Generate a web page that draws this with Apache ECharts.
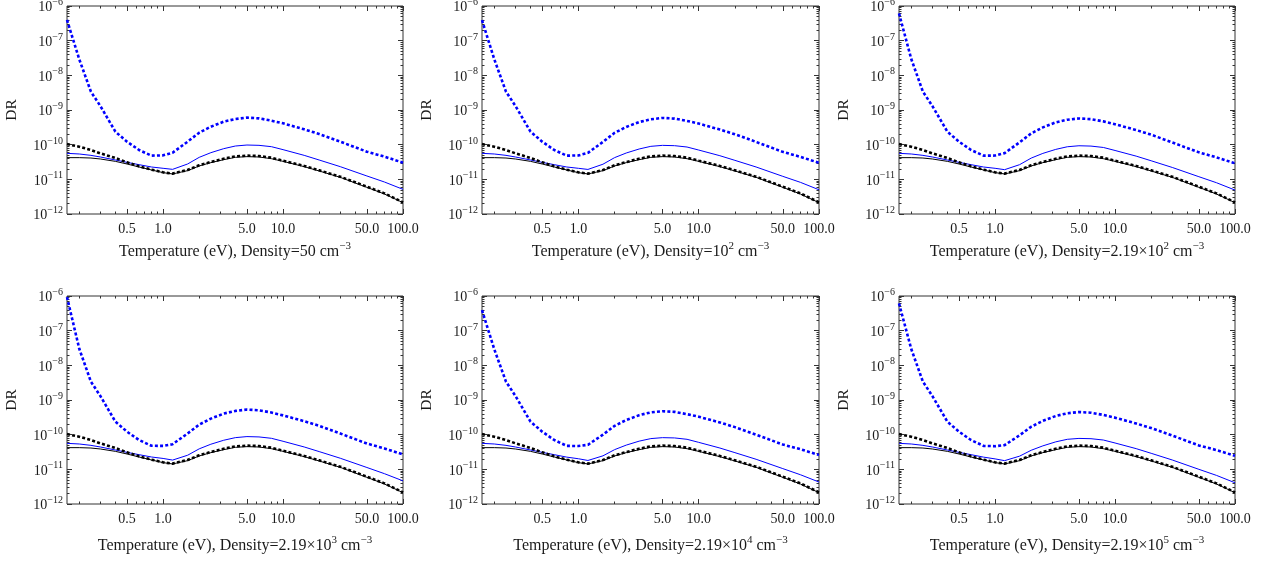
<!DOCTYPE html>
<html><head><meta charset="utf-8">
<script src="https://cdn.jsdelivr.net/npm/echarts@6/dist/echarts.min.js"></script>
<style>html,body{margin:0;padding:0;background:#fff}#c{width:1273px;height:562px}</style>
</head><body><div id="c"></div>
<script>
// ---------- DATA ----------
const temperatures = [0.158,0.2,0.25,0.3,0.4,0.5,0.63,0.8,1.0,1.2,1.6,2.0,2.5,3.2,4.0,5.0,6.3,8.0,10,15,20,30,50,70,100];

const blackSolid  = [4.22e-11,4.22e-11,4.12e-11,3.86e-11,3.30e-11,2.77e-11,2.27e-11,1.86e-11,1.56e-11,1.43e-11,1.78e-11,2.43e-11,3.03e-11,3.69e-11,4.31e-11,4.51e-11,4.41e-11,3.94e-11,3.30e-11,2.32e-11,1.74e-11,1.14e-11,5.87e-12,3.78e-12,2.12e-12];
const blackDashed = [1.04e-10,8.75e-11,7.02e-11,5.62e-11,4.12e-11,3.09e-11,2.37e-11,1.90e-11,1.59e-11,1.46e-11,1.86e-11,2.54e-11,3.16e-11,3.94e-11,4.60e-11,4.82e-11,4.71e-11,4.22e-11,3.45e-11,2.43e-11,1.82e-11,1.19e-11,6.14e-12,3.94e-12,2.17e-12];

const blueSolid_50    = [5.62e-11,5.38e-11,4.92e-11,4.41e-11,3.61e-11,3.09e-11,2.65e-11,2.27e-11,2.08e-11,1.94e-11,2.77e-11,4.31e-11,5.87e-11,7.67e-11,9.14e-11,9.77e-11,9.57e-11,8.75e-11,7.18e-11,4.92e-11,3.61e-11,2.32e-11,1.25e-11,8.38e-12,5.14e-12];
const blueSolid_1e2   = [5.62e-11,5.38e-11,4.92e-11,4.41e-11,3.61e-11,3.09e-11,2.65e-11,2.27e-11,2.08e-11,1.93e-11,2.73e-11,4.23e-11,5.75e-11,7.50e-11,8.95e-11,9.55e-11,9.35e-11,8.55e-11,7.00e-11,4.80e-11,3.53e-11,2.27e-11,1.22e-11,8.20e-12,5.00e-12];
const blueSolid_219e2 = [5.62e-11,5.38e-11,4.92e-11,4.41e-11,3.61e-11,3.09e-11,2.65e-11,2.27e-11,2.08e-11,1.90e-11,2.65e-11,4.10e-11,5.60e-11,7.30e-11,8.70e-11,9.30e-11,9.10e-11,8.30e-11,6.80e-11,4.67e-11,3.43e-11,2.20e-11,1.19e-11,8.00e-12,4.90e-12];
const blueSolid_219e3 = [5.62e-11,5.38e-11,4.92e-11,4.41e-11,3.61e-11,3.09e-11,2.65e-11,2.27e-11,2.06e-11,1.85e-11,2.55e-11,3.90e-11,5.30e-11,6.90e-11,8.20e-11,8.80e-11,8.60e-11,7.85e-11,6.45e-11,4.42e-11,3.25e-11,2.09e-11,1.13e-11,7.50e-12,4.65e-12];
const blueSolid_219e4 = [5.62e-11,5.38e-11,4.92e-11,4.41e-11,3.61e-11,3.09e-11,2.65e-11,2.25e-11,2.02e-11,1.80e-11,2.45e-11,3.70e-11,5.00e-11,6.50e-11,7.70e-11,8.20e-11,8.05e-11,7.35e-11,6.00e-11,4.12e-11,3.03e-11,1.95e-11,1.05e-11,7.00e-12,4.30e-12];
const blueSolid_219e5 = [5.62e-11,5.38e-11,4.92e-11,4.41e-11,3.61e-11,3.09e-11,2.65e-11,2.25e-11,2.00e-11,1.78e-11,2.40e-11,3.55e-11,4.75e-11,6.20e-11,7.35e-11,7.80e-11,7.65e-11,7.00e-11,5.75e-11,3.95e-11,2.90e-11,1.86e-11,1.00e-11,6.70e-12,4.10e-12];

const blueDotted_50    = [3.95e-7,2.89e-8,3.38e-9,1.30e-9,2.37e-10,1.22e-10,7.02e-11,4.82e-11,4.92e-11,5.87e-11,1.22e-10,2.22e-10,3.30e-10,4.60e-10,5.50e-10,6.01e-10,5.75e-10,4.92e-10,4.12e-10,2.77e-10,2.03e-10,1.22e-10,6.28e-11,4.51e-11,3.03e-11];
const blueDotted_1e2   = [3.90e-7,2.89e-8,3.38e-9,1.30e-9,2.37e-10,1.22e-10,7.02e-11,4.82e-11,4.90e-11,5.80e-11,1.20e-10,2.20e-10,3.25e-10,4.50e-10,5.40e-10,5.90e-10,5.65e-10,4.85e-10,4.05e-10,2.72e-10,2.00e-10,1.20e-10,6.20e-11,4.45e-11,3.00e-11];
const blueDotted_219e2 = [6.10e-7,2.95e-8,3.38e-9,1.30e-9,2.37e-10,1.22e-10,7.02e-11,4.82e-11,4.85e-11,5.70e-11,1.17e-10,2.12e-10,3.15e-10,4.40e-10,5.25e-10,5.70e-10,5.45e-10,4.70e-10,3.90e-10,2.64e-10,1.94e-10,1.16e-10,6.00e-11,4.30e-11,2.90e-11];
const blueDotted_219e3 = [9.30e-7,3.00e-8,3.38e-9,1.30e-9,2.37e-10,1.22e-10,7.00e-11,4.78e-11,4.75e-11,5.30e-11,1.08e-10,1.95e-10,2.90e-10,4.05e-10,4.85e-10,5.30e-10,5.05e-10,4.35e-10,3.60e-10,2.45e-10,1.80e-10,1.08e-10,5.55e-11,4.00e-11,2.70e-11];
const blueDotted_219e4 = [3.90e-7,2.89e-8,3.38e-9,1.30e-9,2.37e-10,1.22e-10,7.00e-11,4.75e-11,4.70e-11,5.10e-11,1.00e-10,1.80e-10,2.65e-10,3.65e-10,4.40e-10,4.75e-10,4.55e-10,3.90e-10,3.30e-10,2.25e-10,1.65e-10,1.00e-10,5.20e-11,3.80e-11,2.60e-11];
const blueDotted_219e5 = [6.10e-7,2.95e-8,3.38e-9,1.30e-9,2.37e-10,1.22e-10,7.00e-11,4.75e-11,4.65e-11,5.00e-11,9.60e-11,1.70e-10,2.50e-10,3.45e-10,4.15e-10,4.50e-10,4.30e-10,3.70e-10,3.10e-10,2.10e-10,1.55e-10,9.40e-11,4.90e-11,3.60e-11,2.45e-11];

const panelTitles = [
  '{b|Temperature (eV), Density=50 cm}{s|−3}',
  '{b|Temperature (eV), Density=10}{s|2}{b| cm}{s|−3}',
  '{b|Temperature (eV), Density=2.19×10}{s|2}{b| cm}{s|−3}',
  '{b|Temperature (eV), Density=2.19×10}{s|3}{b| cm}{s|−3}',
  '{b|Temperature (eV), Density=2.19×10}{s|4}{b| cm}{s|−3}',
  '{b|Temperature (eV), Density=2.19×10}{s|5}{b| cm}{s|−3}'
];
const panelBlueSolid  = [blueSolid_50, blueSolid_1e2, blueSolid_219e2, blueSolid_219e3, blueSolid_219e4, blueSolid_219e5];
const panelBlueDotted = [blueDotted_50, blueDotted_1e2, blueDotted_219e2, blueDotted_219e3, blueDotted_219e4, blueDotted_219e5];

const xMajorTicks = [0.5, 1, 5, 10, 50, 100];
const xMinorTicks = [0.2,0.3,0.4,0.6,0.7,0.8,0.9,2,3,4,6,7,8,9,20,30,40,60,70,80,90];
const yDecadeMin = -12, yDecadeMax = -6;
const xMin = 0.158, xMax = 100;

// ---------- LAYOUT ----------
const colLeft = [67, 482, 899], colWidth = [336, 337, 336];
const rowTop = [6, 296], rowHeight = 208;
const titleGap = [27, 31];
const FONT = "'Liberation Serif','Times New Roman',serif";
const FRAME = '#333';
const TXT = '#1a1a1a';

const yMinor = [];
for (let n = yDecadeMin; n < yDecadeMax; n++) for (let k = 2; k <= 9; k++) yMinor.push(n + Math.log10(k));

const grids = [], xAxes = [], yAxes = [], series = [];
const yRich = {
  b: {fontSize: 14, fontFamily: FONT, color: TXT, lineHeight: 17, verticalAlign: 'bottom'},
  s: {fontSize: 10, fontFamily: FONT, color: TXT, lineHeight: 10, verticalAlign: 'top'}
};
const titleRich = {
  b: {fontSize: 16, fontFamily: FONT, color: TXT, lineHeight: 19, verticalAlign: 'bottom'},
  s: {fontSize: 11, fontFamily: FONT, color: TXT, lineHeight: 11, verticalAlign: 'top'}
};

for (let p = 0; p < 6; p++) {
  const r = Math.floor(p / 3), c = p % 3;
  grids.push({left: colLeft[c], top: rowTop[r], width: colWidth[c], height: rowHeight,
    show: true, borderColor: FRAME, borderWidth: 1, backgroundColor: 'transparent',
    containLabel: false, outerBoundsMode: 'none'});
  const lxmin = Math.log10(xMin), lxmax = Math.log10(xMax);
  const base = {gridIndex: p, axisLine: {show: false, onZero: false}, splitLine: {show: false}};
  const tickAxis = (pos, vals, len, labels) => Object.assign({}, base, {
    type: 'value', min: lxmin, max: lxmax, position: pos,
    axisTick: {show: true, inside: true, length: len, customValues: vals, lineStyle: {color: FRAME, width: 1}},
    axisLabel: labels ? {show: true, customValues: vals, formatter: v => Math.pow(10, v).toFixed(1),
      fontSize: 14, fontFamily: FONT, color: TXT, margin: 8} : {show: false}
  });
  xAxes.push(Object.assign({}, base, {type: 'log', logBase: 10, min: xMin, max: xMax,
    axisTick: {show: false}, axisLabel: {show: false}, minorTick: {show: false}}));
  const xb = tickAxis('bottom', xMajorTicks.map(Math.log10), 5, true);
  xb.name = panelTitles[p]; xb.nameLocation = 'middle'; xb.nameGap = titleGap[r];
  xb.nameTextStyle = {rich: titleRich};
  xAxes.push(xb);
  xAxes.push(tickAxis('bottom', xMinorTicks.map(Math.log10), 2.5, false));
  xAxes.push(tickAxis('top', xMajorTicks.map(Math.log10), 5, false));
  xAxes.push(tickAxis('top', xMinorTicks.map(Math.log10), 2.5, false));

  const ytick = (pos, len, minor, labels) => Object.assign({}, base, {
    type: 'value', min: yDecadeMin, max: yDecadeMax, interval: 1, position: pos,
    axisTick: minor ? {show: true, inside: true, length: len, customValues: yMinor, lineStyle: {color: FRAME}}
                    : {show: true, inside: true, length: len, lineStyle: {color: FRAME}},
    axisLabel: labels ? {show: true, margin: 4, formatter: v => '{b|10}{s|−' + Math.round(-v) + '}', rich: yRich}
                      : {show: false}
  });
  yAxes.push(Object.assign({}, base, {type: 'log', logBase: 10, min: Math.pow(10, yDecadeMin), max: Math.pow(10, yDecadeMax),
    axisTick: {show: false}, axisLabel: {show: false}, minorTick: {show: false}}));
  const yl = ytick('left', 5, false, true);
  yl.name = 'DR'; yl.nameLocation = 'middle'; yl.nameGap = 47; yl.nameRotate = 90;
  yl.nameTextStyle = {fontSize: 15.5, fontFamily: FONT, color: TXT};
  yAxes.push(yl);
  yAxes.push(ytick('left', 2.5, true, false));
  yAxes.push(ytick('right', 5, false, false));
  yAxes.push(ytick('right', 2.5, true, false));

  const mk = (arr, color, width, type, z) => ({
    type: 'line', xAxisIndex: p * 5, yAxisIndex: p * 5, z: z,
    data: temperatures.map((t, i) => [t, arr[i]]),
    showSymbol: false, symbol: 'none', silent: true, animation: false,
    lineStyle: {color: color, width: width, type: type, cap: 'butt'}
  });
  series.push(mk(blackSolid, '#000', 1, 'solid', 2));
  series.push(mk(panelBlueSolid[p], '#0000ff', 1, 'solid', 3));
  series.push(mk(blackDashed, '#000', 2.6, [3, 2.2], 4));
  series.push(mk(panelBlueDotted[p], '#0000ff', 2.6, [3, 2.2], 5));
}

const chart = echarts.init(document.getElementById('c'), null, {renderer: 'canvas'});
chart.setOption({animation: false, backgroundColor: '#fff', grid: grids, xAxis: xAxes, yAxis: yAxes, series: series});
</script></body></html>
